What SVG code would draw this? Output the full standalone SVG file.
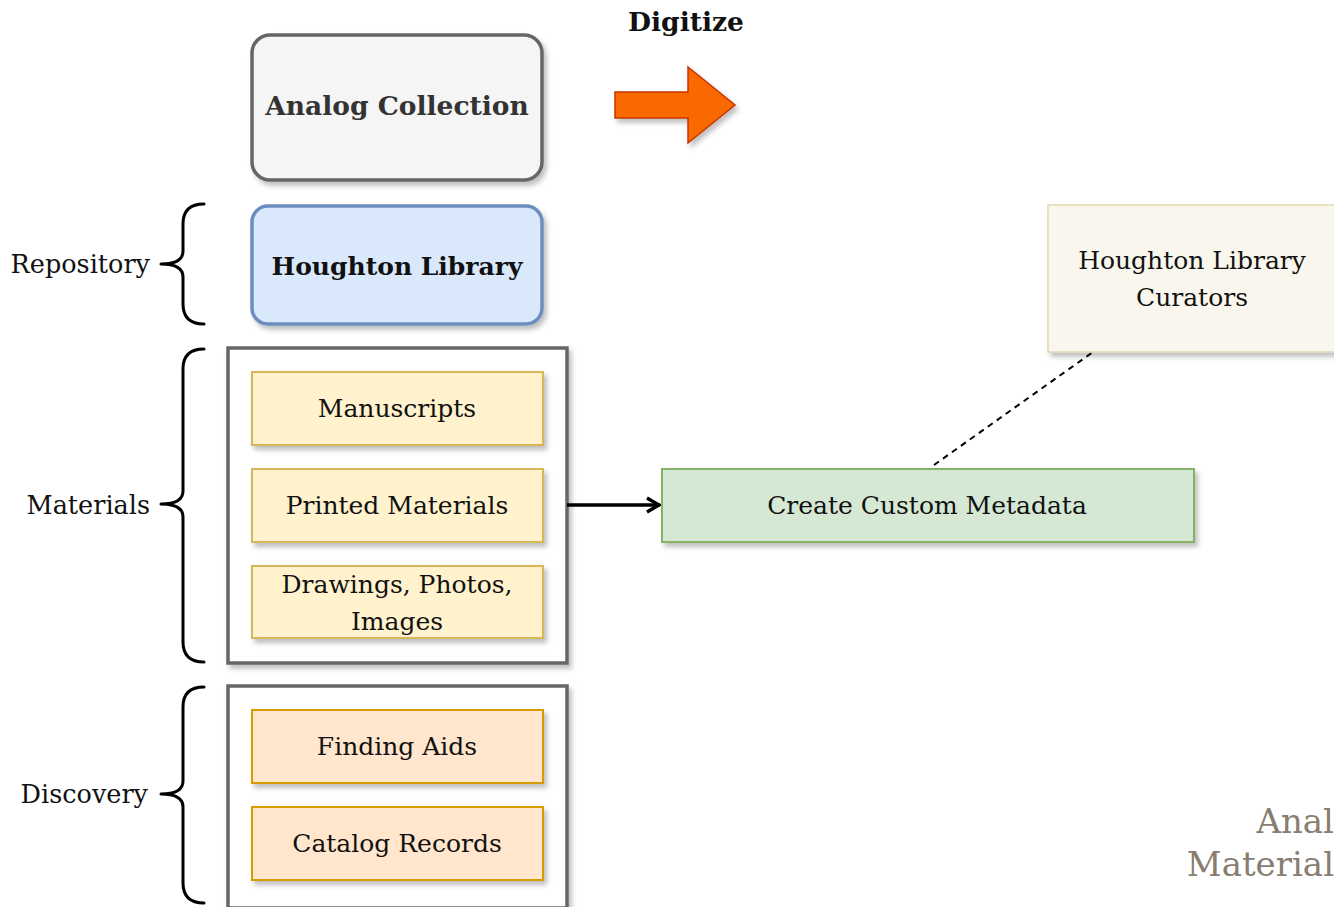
<svg xmlns="http://www.w3.org/2000/svg" width="1334" height="907" viewBox="0 0 1334 907">
<defs>
<filter id="sh" x="-10%" y="-10%" width="130%" height="140%">
<feDropShadow dx="3" dy="4" stdDeviation="2.5" flood-color="#000" flood-opacity="0.25"/>
</filter>
<marker id="open" viewBox="0 0 16 18" refX="15" refY="9" markerWidth="16" markerHeight="18" markerUnits="userSpaceOnUse" orient="auto">
<path d="M2,2 L14,9 L2,16" fill="none" stroke="#000" stroke-width="3.5"/>
</marker>
<style>
text{font-family:"DejaVu Serif","Liberation Serif",serif;fill:#111;}
.lbl{font-size:25px;text-anchor:middle;}
.side{font-size:25.5px;text-anchor:end;}
.bold{font-weight:bold;font-size:26.5px;text-anchor:middle;fill:#333;}
.brace{fill:none;stroke:#000;stroke-width:3;stroke-linejoin:round;stroke-linecap:round;}
.box{stroke-width:2;filter:url(#sh);}
.yel{fill:#fff2cc;stroke:#d6b656;}
.org{fill:#ffe6cc;stroke:#d79b00;}
.cont{fill:#fff;stroke:#666;stroke-width:3.5;filter:url(#sh);}
</style>
</defs>
<rect width="1334" height="907" fill="#fff"/>

<g id="analog">
<rect x="252" y="35" width="290" height="145" rx="18" fill="#f5f5f5" stroke="#666" stroke-width="3.5" filter="url(#sh)"/>
<text class="bold" x="397" y="115">Analog Collection</text>
</g>

<g id="digitize">
<text x="686" y="31" style="font-weight:bold;font-size:26.5px;text-anchor:middle;">Digitize</text>
<path d="M615,92 L688,92 L688,67 L735,105 L688,143 L688,118 L615,118 Z" fill="#fa6800" stroke="#c73500" stroke-width="1.5" filter="url(#sh)"/>
</g>

<g id="repository">
<text class="side" x="150" y="273">Repository</text>
<path class="brace" d="M204,204 Q183,204 183,224 L183,251 Q183,264 161,264 Q183,264 183,277 L183,304 Q183,324 204,324"/>
</g>

<g id="houghton">
<rect x="252" y="206" width="290" height="118" rx="16" fill="#dae8fc" stroke="#6c8ebf" stroke-width="3.5" filter="url(#sh)"/>
<text class="bold" x="397" y="275" style="fill:#111;font-size:25px">Houghton Library</text>
</g>

<g id="materials-label">
<text class="side" x="150" y="514">Materials</text>
<path class="brace" d="M204,349 Q183,349 183,369 L183,491 Q183,504 161,504 Q183,504 183,517 L183,642 Q183,662 204,662"/>
</g>

<g id="materials">
<rect class="cont" x="228" y="348" width="339" height="315"/>
</g>
<g id="manuscripts">
<rect class="box yel" x="252" y="372" width="291" height="73"/>
<text class="lbl" x="397" y="417">Manuscripts</text>
</g>
<g id="printed">
<rect class="box yel" x="252" y="469" width="291" height="73"/>
<text class="lbl" x="397" y="514">Printed Materials</text>
</g>
<g id="drawings">
<rect class="box yel" x="252" y="566" width="291" height="72"/>
<text class="lbl" x="397" y="593">Drawings, Photos,</text>
<text class="lbl" x="397" y="630">Images</text>
</g>

<g id="discovery-label">
<text class="side" x="148" y="803">Discovery</text>
<path class="brace" d="M204,687 Q183,687 183,707 L183,781 Q183,794 161,794 Q183,794 183,807 L183,883 Q183,903 204,903"/>
</g>

<g id="discovery">
<rect class="cont" x="228" y="686" width="339" height="222"/>
</g>
<g id="finding">
<rect class="box org" x="252" y="710" width="291" height="73"/>
<text class="lbl" x="397" y="755">Finding Aids</text>
</g>
<g id="catalog">
<rect class="box org" x="252" y="807" width="291" height="73"/>
<text class="lbl" x="397" y="852">Catalog Records</text>
</g>

<g id="metadata">
<rect x="662" y="469" width="532" height="73" fill="#d5e8d4" stroke="#82b366" stroke-width="2" filter="url(#sh)"/>
<text class="lbl" x="927" y="514">Create Custom Metadata</text>
</g>

<g id="curators">
<rect x="1048" y="205" width="300" height="147" fill="#f9f7ed" stroke="#e3d9b4" stroke-width="1.5" filter="url(#sh)"/>
<text class="lbl" x="1192" y="269">Houghton Library</text>
<text class="lbl" x="1192" y="306">Curators</text>
</g>

<g id="connectors">
<line x1="567" y1="505" x2="660" y2="505" stroke="#000" stroke-width="3.5" marker-end="url(#open)"/>
<line x1="934" y1="465" x2="1093" y2="352" stroke="#000" stroke-width="2" stroke-dasharray="6,5"/>
</g>

<g id="corner-title">
<text x="1334" y="833" style="font-size:34px;text-anchor:end;fill:#877d70;">Anal</text>
<text x="1334" y="876" style="font-size:34px;text-anchor:end;fill:#877d70;">Material</text>
</g>
</svg>
